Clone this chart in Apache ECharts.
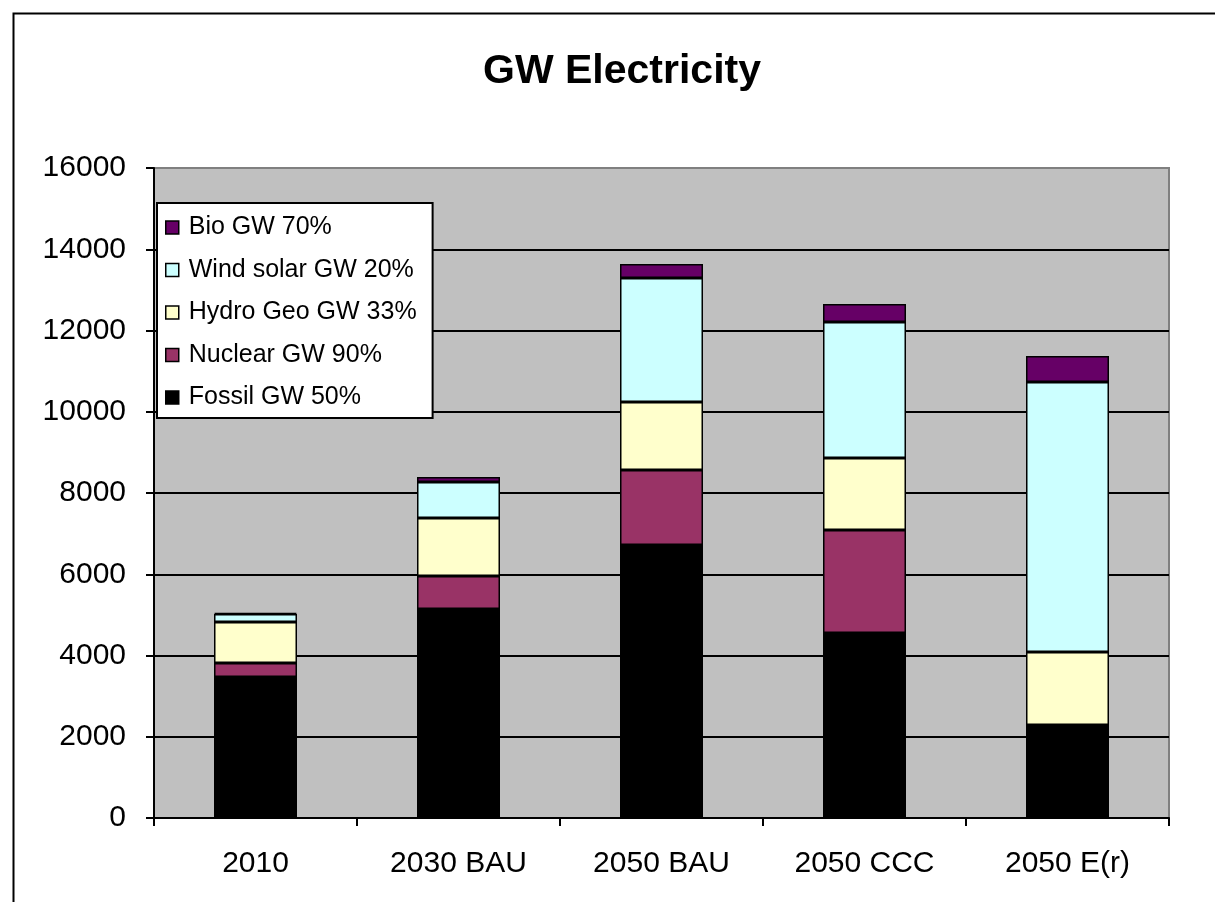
<!DOCTYPE html>
<html>
<head>
<meta charset="utf-8">
<script src="https://cdn.jsdelivr.net/npm/echarts@6/dist/echarts.min.js"></script>
<style>
html,body{margin:0;padding:0;background:#fff;}
#chart{width:1215px;height:902px;}
</style>
</head>
<body>
<div id="chart"></div>
<script>
const categories = ['2010', '2030 BAU', '2050 BAU', '2050 CCC', '2050 E(r)'];
const fossil = [3470, 5145, 6720, 4554, 2290];
const nuclear = [345, 812, 1846, 2535, 0];
const hydroGeo = [1010, 1428, 1674, 1772, 1796];
const windSolar = [195, 886, 3052, 3348, 6646];
const bio = [30, 123, 345, 443, 640];
const seriesNames = ['Fossil GW 50%', 'Nuclear GW 90%', 'Hydro Geo GW 33%', 'Wind solar GW 20%', 'Bio GW 70%'];
const yTicks = [0, 2000, 4000, 6000, 8000, 10000, 12000, 14000, 16000];

const colors = ['#000000', '#993366', '#FFFFCC', '#CCFFFF', '#660066'];
const dataArrays = [fossil, nuclear, hydroGeo, windSolar, bio];
const font = '"Liberation Sans", Arial, sans-serif';

const chart = echarts.init(document.getElementById('chart'));
chart.setOption({
  animation: false,
  backgroundColor: '#ffffff',
  title: {
    text: 'GW Electricity',
    left: 617, top: 46, textAlign: 'center',
    textStyle: { fontFamily: font, fontSize: 41, fontWeight: 'bold', color: '#000' }
  },
  graphic: [{
    type: 'rect', left: 11, top: 11, z: 100,
    shape: { width: 1220, height: 900 },
    style: { fill: 'none', stroke: '#000', lineWidth: 2 }
  }],
  legend: {
    orient: 'vertical',
    left: 157, top: 203,
    data: seriesNames.slice().reverse(),
    backgroundColor: '#ffffff',
    borderColor: '#000', borderWidth: 2,
    padding: [12, 16, 8, 8],
    itemWidth: 13, itemHeight: 13, itemGap: 17.5,
    icon: 'rect',
    itemStyle: { borderColor: '#000', borderWidth: 1.5 },
    textStyle: { fontFamily: font, fontSize: 25, color: '#000', padding: [0, 0, 0, 5], lineHeight: 24 }
  },
  grid: {
    left: 154, top: 168, right: 46, bottom: 84,
    show: true, backgroundColor: '#C0C0C0', borderColor: '#808080', borderWidth: 2
  },
  xAxis: {
    type: 'category', data: categories,
    axisLine: { lineStyle: { color: '#000', width: 2 } },
    axisTick: { show: true, length: 8, alignWithLabel: false, lineStyle: { color: '#000', width: 2 } },
    axisLabel: { fontFamily: font, fontSize: 30, color: '#000', margin: 31 },
    splitLine: { show: false }
  },
  yAxis: {
    type: 'value', min: yTicks[0], max: yTicks[yTicks.length - 1], interval: 2000,
    axisLine: { show: true, lineStyle: { color: '#000', width: 2 } },
    axisTick: { show: true, length: 8, inside: false, lineStyle: { color: '#000', width: 2 } },
    axisLabel: { fontFamily: font, fontSize: 30, color: '#000', margin: 28, formatter: v => String(v) },
    splitLine: { show: true, lineStyle: { color: ['#000','#000','#000','#000','#000','#000','#000','#000','#808080'], width: 2 } }
  },
  series: dataArrays.map((arr, i) => ({
    name: seriesNames[i],
    type: 'bar',
    stack: 'total',
    barWidth: 83,
    data: arr,
    itemStyle: { color: colors[i], borderColor: '#000', borderWidth: 1.5 }
  }))
});
</script>
</body>
</html>
